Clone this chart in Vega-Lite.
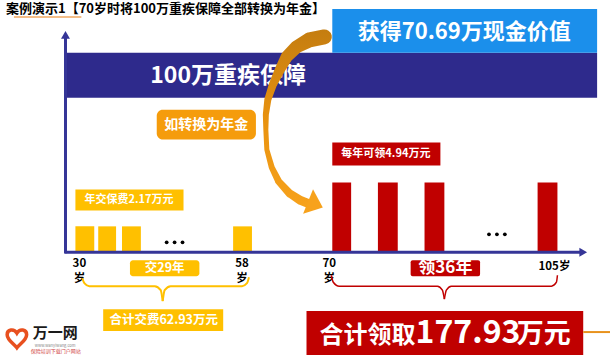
{
 "$schema": "https://vega.github.io/schema/vega-lite/v6.json",
 "width": 611, "height": 355,
 "autosize": {"type": "fit", "contains": "padding"},
 "padding": 0,
 "background": "white",
 "config": {"view": {"stroke": null}, "text": {"font": "Noto Sans CJK SC"}},
 "encoding": {
  "x": {"field": "x", "type": "quantitative", "scale": {"domain": [0, 611], "nice": false, "zero": false}, "axis": null},
  "y": {"field": "y", "type": "quantitative", "scale": {"domain": [0, 355], "nice": false, "zero": false, "reverse": true}, "axis": null}
 },
 "layer": [
  {"data": {"values": [{"x": 62, "x2": 598, "y": 53, "y2": 98}]},
   "mark": {"type": "rect", "color": "#2E2A8C"},
   "encoding": {"x2": {"field": "x2"}, "y2": {"field": "y2"}}},
  {"data": {"values": [{"x": 331, "x2": 598, "y": 9, "y2": 53}]},
   "mark": {"type": "rect", "color": "#1B8FEB"},
   "encoding": {"x2": {"field": "x2"}, "y2": {"field": "y2"}}},
  {"data": {"values": [{"x": 226, "y": 76, "t": "100万重疾保障"}]},
   "mark": {"type": "text", "color": "white", "fontSize": 23, "fontWeight": "bold", "align": "center", "baseline": "middle"},
   "encoding": {"text": {"field": "t"}}},
  {"data": {"values": [{"x": 464, "y": 32, "t": "获得70.69万现金价值"}]},
   "mark": {"type": "text", "color": "white", "fontSize": 22, "fontWeight": "bold", "align": "center", "baseline": "middle"},
   "encoding": {"text": {"field": "t"}}},
  {"data": {"values": [
    {"i": 0, "x": 323, "y": 37, "w": 15},
    {"i": 1, "x": 308, "y": 40, "w": 15},
    {"i": 2, "x": 295, "y": 47, "w": 13},
    {"i": 3, "x": 285, "y": 57, "w": 12},
    {"i": 4, "x": 278, "y": 70, "w": 10},
    {"i": 5, "x": 271, "y": 85, "w": 8},
    {"i": 6, "x": 266, "y": 100, "w": 7},
    {"i": 7, "x": 264, "y": 115, "w": 6},
    {"i": 8, "x": 264, "y": 130, "w": 5},
    {"i": 9, "x": 265, "y": 150, "w": 5},
    {"i": 10, "x": 270, "y": 168, "w": 6},
    {"i": 11, "x": 277, "y": 182, "w": 7},
    {"i": 12, "x": 288, "y": 194, "w": 8},
    {"i": 13, "x": 299, "y": 201, "w": 9},
    {"i": 14, "x": 309, "y": 205, "w": 9}]},
   "mark": {"type": "trail", "color": {"gradient": "linear", "x1": 0, "y1": 0, "x2": 0, "y2": 1, "stops": [{"offset": 0, "color": "#C47D10"}, {"offset": 0.5, "color": "#E8920F"}, {"offset": 1, "color": "#F7A21C"}]}},
   "encoding": {"order": {"field": "i", "type": "quantitative"}, "size": {"field": "w", "type": "quantitative", "scale": null, "legend": null}}},
  {"data": {"values": [{"x": 314, "y": 205}]},
   "mark": {"type": "point", "shape": "M-0.6,-1L0.6,0L-0.6,1Z", "filled": true, "opacity": 1, "color": "#F7A21C", "size": 700, "angle": 22, "strokeWidth": 0},
   "encoding": {}},
  {"data": {"values": [
    {"x": 154, "x2": 254, "y": 110, "y2": 140}]},
   "mark": {"type": "rect", "color": "#F59C0C", "cornerRadius": 6},
   "encoding": {"x2": {"field": "x2"}, "y2": {"field": "y2"}}},
  {"data": {"values": [
    {"x": 72, "x2": 91, "y": 227, "y2": 253},
    {"x": 95, "x2": 113, "y": 227, "y2": 253},
    {"x": 119, "x2": 138, "y": 227, "y2": 253},
    {"x": 231, "x2": 250, "y": 227, "y2": 253},
    {"x": 72, "x2": 181, "y": 190, "y2": 211},
    {"x": 100, "x2": 221, "y": 310, "y2": 332}]},
   "mark": {"type": "rect", "color": "#FFC000"},
   "encoding": {"x2": {"field": "x2"}, "y2": {"field": "y2"}}},
  {"data": {"values": [{"x": 127, "x2": 197, "y": 261, "y2": 277}]},
   "mark": {"type": "rect", "color": "#FFC000", "cornerRadius": 3},
   "encoding": {"x2": {"field": "x2"}, "y2": {"field": "y2"}}},
  {"data": {"values": [
    {"x": 331, "x2": 350, "y": 183, "y2": 253},
    {"x": 377, "x2": 397, "y": 183, "y2": 253},
    {"x": 424, "x2": 444, "y": 183, "y2": 253},
    {"x": 538, "x2": 558, "y": 183, "y2": 253},
    {"x": 331, "x2": 440, "y": 143, "y2": 166},
    {"x": 305, "x2": 584, "y": 312, "y2": 356}]},
   "mark": {"type": "rect", "color": "#C00000"},
   "encoding": {"x2": {"field": "x2"}, "y2": {"field": "y2"}}},
  {"data": {"values": [{"x": 410, "x2": 480, "y": 261, "y2": 277}]},
   "mark": {"type": "rect", "color": "#C00000", "cornerRadius": 2},
   "encoding": {"x2": {"field": "x2"}, "y2": {"field": "y2"}}},
  {"data": {"values": [
    {"x": 62, "x2": 62, "y": 38, "y2": 254},
    {"x": 61, "x2": 582, "y": 253, "y2": 253}]},
   "mark": {"type": "rule", "color": "#353597", "strokeWidth": 3},
   "encoding": {"x2": {"field": "x2"}, "y2": {"field": "y2"}}},
  {"data": {"values": [{"x": 62, "y": 35}]},
   "mark": {"type": "point", "shape": "triangle-up", "filled": true, "opacity": 1, "color": "#353597", "size": 80},
   "encoding": {}},
  {"data": {"values": [{"x": 584, "y": 253}]},
   "mark": {"type": "point", "shape": "triangle-right", "filled": true, "opacity": 1, "color": "#353597", "size": 80},
   "encoding": {}},
  {"data": {"values": [{"x": 204, "y": 125, "t": "如转换为年金"}]},
   "mark": {"type": "text", "color": "white", "fontSize": 14, "fontWeight": "bold", "align": "center", "baseline": "middle"},
   "encoding": {"text": {"field": "t"}}},
  {"data": {"values": [
    {"x": 126, "y": 200.5, "t": "年交保费2.17万元"},
    {"x": 385, "y": 154.5, "t": "每年可领4.94万元"}]},
   "mark": {"type": "text", "color": "white", "fontSize": 11, "fontWeight": "bold", "align": "center", "baseline": "middle"},
   "encoding": {"text": {"field": "t"}}},
  {"data": {"values": [
    {"x": 161, "y": 321, "t": "合计交费62.93万元"},
    {"x": 162, "y": 269, "t": "交29年"}]},
   "mark": {"type": "text", "color": "white", "fontSize": 12.5, "fontWeight": "bold", "align": "center", "baseline": "middle"},
   "encoding": {"text": {"field": "t"}}},
  {"data": {"values": [{"x": 445, "y": 269, "t": "领36年"}]},
   "mark": {"type": "text", "color": "white", "fontSize": 17, "fontWeight": "bold", "align": "center", "baseline": "middle"},
   "encoding": {"text": {"field": "t"}}},
  {"data": {"values": [{"x": 318, "y": 344, "t": "合计领取"}]},
   "mark": {"type": "text", "color": "white", "fontSize": 24, "fontWeight": "bold", "align": "left", "baseline": "alphabetic"},
   "encoding": {"text": {"field": "t"}}},
  {"data": {"values": [{"x": 415, "y": 344, "t": "177.93"}]},
   "mark": {"type": "text", "color": "white", "fontSize": 32, "fontWeight": "bold", "align": "left", "baseline": "alphabetic"},
   "encoding": {"text": {"field": "t"}}},
  {"data": {"values": [{"x": 517, "y": 344, "t": "万元"}]},
   "mark": {"type": "text", "color": "white", "fontSize": 27, "fontWeight": "bold", "align": "left", "baseline": "alphabetic"},
   "encoding": {"text": {"field": "t"}}},
  {"data": {"values": [
    {"x": 76, "y": 265, "t": "30"},
    {"x": 76, "y": 280, "t": "岁"},
    {"x": 240, "y": 265, "t": "58"},
    {"x": 240, "y": 280, "t": "岁"},
    {"x": 328, "y": 265, "t": "70"},
    {"x": 328, "y": 280, "t": "岁"},
    {"x": 555, "y": 268, "t": "105岁"}]},
   "mark": {"type": "text", "color": "black", "fontSize": 11.5, "fontWeight": "bold", "align": "center", "baseline": "middle"},
   "encoding": {"text": {"field": "t"}}},
  {"data": {"values": [
    {"x": 164, "y": 243}, {"x": 172, "y": 243}, {"x": 180, "y": 243},
    {"x": 489, "y": 235}, {"x": 497, "y": 235}, {"x": 505, "y": 235}]},
   "mark": {"type": "point", "shape": "circle", "filled": true, "opacity": 1, "color": "black", "size": 14},
   "encoding": {}},
  {"data": {"values": [
    {"g": "a", "x": 79, "y": 279}, {"g": "a", "x": 81, "y": 284}, {"g": "a", "x": 86, "y": 287}, {"g": "a", "x": 152, "y": 287}, {"g": "a", "x": 158, "y": 291}, {"g": "a", "x": 160, "y": 302},
    {"g": "b", "x": 160, "y": 302}, {"g": "b", "x": 162, "y": 291}, {"g": "b", "x": 168, "y": 287}, {"g": "b", "x": 240, "y": 287}, {"g": "b", "x": 245, "y": 284}, {"g": "b", "x": 247, "y": 278}]},
   "mark": {"type": "line", "color": "#FFC000", "strokeWidth": 2, "interpolate": "monotone"},
   "encoding": {"detail": {"field": "g"}}},
  {"data": {"values": [
    {"g": "a", "x": 330, "y": 276}, {"g": "a", "x": 332, "y": 283}, {"g": "a", "x": 338, "y": 287}, {"g": "a", "x": 437, "y": 287}, {"g": "a", "x": 442, "y": 291}, {"g": "a", "x": 444, "y": 300},
    {"g": "b", "x": 444, "y": 300}, {"g": "b", "x": 446, "y": 291}, {"g": "b", "x": 451, "y": 287}, {"g": "b", "x": 552, "y": 287}, {"g": "b", "x": 557, "y": 283}, {"g": "b", "x": 558, "y": 276}]},
   "mark": {"type": "line", "color": "#C00000", "strokeWidth": 1.5, "interpolate": "monotone"},
   "encoding": {"detail": {"field": "g"}}},
  {"data": {"values": [{"x": 584, "x2": 611, "y": 333, "y2": 333}]},
   "mark": {"type": "rule", "color": "#E8921C", "strokeWidth": 2},
   "encoding": {"x2": {"field": "x2"}, "y2": {"field": "y2"}}},
  {"data": {"values": [{"x": 10, "x2": 78, "y": 17, "y2": 17}]},
   "mark": {"type": "rule", "color": "#F0A860", "strokeWidth": 1.5},
   "encoding": {"x2": {"field": "x2"}, "y2": {"field": "y2"}}},
  {"data": {"values": [{"x": 2, "y": 3.5, "t": "案例演示1【70岁时将100万重疾保障全部转换为年金】"}]},
   "mark": {"type": "text", "color": "black", "fontSize": 13, "fontWeight": "bold", "align": "left", "baseline": "top"},
   "encoding": {"text": {"field": "t"}}},
  {"data": {"values": [{"x": 13, "y": 339}]},
   "mark": {"type": "point", "shape": "M0,1C-0.3,0.6-1,0.2-1,-0.35C-1,-0.9-0.3,-1,0,-0.5C0.3,-1,1,-0.9,1,-0.35C1,0.2,0.3,0.6,0,1Z", "filled": false, "opacity": 1, "color": "#E8501F", "strokeWidth": 3.5, "size": 380},
   "encoding": {}},
  {"data": {"values": [{"x": 29, "y": 334, "t": "万一网"}]},
   "mark": {"type": "text", "color": "#1A1A1A", "fontSize": 15, "fontWeight": "bold", "align": "left", "baseline": "middle"},
   "encoding": {"text": {"field": "t"}}},
  {"data": {"values": [{"x": 31, "y": 346.5, "t": "www.wanyiwang.com"}]},
   "mark": {"type": "text", "color": "#888888", "fontSize": 4, "align": "left", "baseline": "middle"},
   "encoding": {"text": {"field": "t"}}},
  {"data": {"values": [{"x": 27, "y": 352, "t": "保险培训下载门户网站"}]},
   "mark": {"type": "text", "color": "#D04040", "fontSize": 5, "align": "left", "baseline": "middle"},
   "encoding": {"text": {"field": "t"}}}
 ]
}
